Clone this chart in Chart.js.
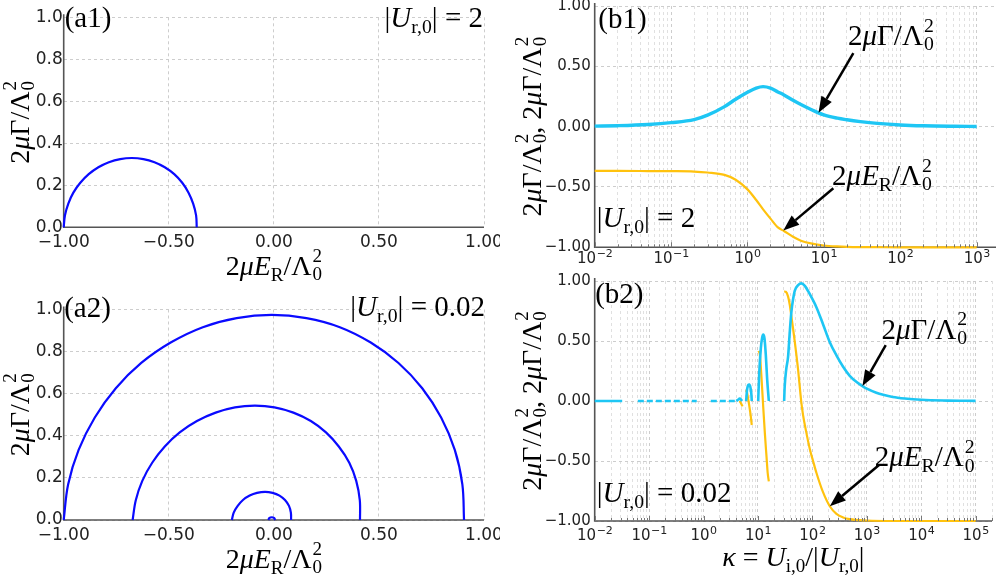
<!DOCTYPE html>
<html>
<head>
<meta charset="utf-8">
<script src="https://cdn.jsdelivr.net/npm/chart.js@4.4.1/dist/chart.umd.min.js"></script>
<style>
  html, body { margin: 0; padding: 0; background: #fff; }
  #wrap { position: relative; width: 996px; height: 577px; overflow: hidden; }
  canvas { position: absolute; }
</style>
</head>
<body>
<div id="wrap">
  <canvas id="a1" width="500" height="285" style="left:0px;top:0px"></canvas>
  <canvas id="a2" width="500" height="292" style="left:0px;top:285px"></canvas>
  <canvas id="b1" width="496" height="270" style="left:500px;top:0px"></canvas>
  <canvas id="b2" width="496" height="307" style="left:500px;top:270px"></canvas>
</div>
<script>
// ---- data ----
// (a1) |U_r,0| = 2 : trajectory in the (E_R, Gamma) plane
const a1E = [-1.000, -0.994, -0.978, -0.954, -0.921, -0.881, -0.835, -0.785, -0.731, -0.676,
             -0.621, -0.568, -0.519, -0.474, -0.436, -0.406, -0.384, -0.370, -0.367];
const a1G = [0, 0.057, 0.113, 0.165, 0.212, 0.253, 0.286, 0.310, 0.325, 0.330,
             0.325, 0.310, 0.286, 0.253, 0.212, 0.165, 0.113, 0.057, 0];

// (a2) |U_r,0| = 0.02 : four arcs
const a2BigE = [-1.000, -0.979, -0.929, -0.852, -0.752, -0.631, -0.491, -0.338, -0.177, -0.010,
                0.155, 0.314, 0.461, 0.593, 0.706, 0.796, 0.861, 0.897, 0.905];
const a2BigG = [0, 0.169, 0.333, 0.487, 0.626, 0.746, 0.843, 0.916, 0.959, 0.974,
                0.959, 0.916, 0.843, 0.746, 0.626, 0.487, 0.333, 0.169, 0];
const a2MidE = [-0.672, -0.657, -0.626, -0.579, -0.519, -0.448, -0.366, -0.277, -0.185, -0.090,
                0.003, 0.093, 0.176, 0.248, 0.309, 0.359, 0.392, 0.409, 0.410];
const a2MidG = [0, 0.094, 0.186, 0.272, 0.349, 0.416, 0.470, 0.510, 0.535, 0.543,
                0.535, 0.510, 0.470, 0.416, 0.349, 0.272, 0.186, 0.094, 0];
const a2SmallE = [-0.200, -0.191, -0.172, -0.147, -0.115, -0.080, -0.042, -0.006, 0.027, 0.053, 0.072, 0.081, 0.082];
const a2SmallG = [0, 0.035, 0.067, 0.095, 0.116, 0.129, 0.134, 0.129, 0.116, 0.095, 0.067, 0.035, 0];
const a2TinyE = [-0.026, -0.022, -0.010, 0.002, 0.006];
const a2TinyG = [0, 0.009, 0.013, 0.009, 0];

// (b1) |U_r,0| = 2 : versus kappa
const b1Kappa = [0.01, 0.02, 0.05, 0.1, 0.2, 0.3, 0.5, 0.7, 1, 1.3, 1.6, 2, 2.5, 3, 4, 5, 7, 10,
                 15, 20, 30, 50, 100, 200, 500, 1000];
const b1Gamma = [0.004, 0.008, 0.018, 0.033, 0.058, 0.095, 0.166, 0.227, 0.285, 0.320, 0.332, 0.320,
                 0.288, 0.263, 0.216, 0.183, 0.138, 0.097, 0.070, 0.057, 0.042, 0.027, 0.014, 0.007, 0.003, 0.0015];
const b1Energy = [-0.367, -0.367, -0.368, -0.369, -0.372, -0.380, -0.400, -0.440, -0.520, -0.608, -0.685,
                  -0.762, -0.835, -0.865, -0.915, -0.945, -0.970, -0.985, -0.993, -0.996, -0.998, -0.999,
                  -1, -1, -1, -1];

// (b2) |U_r,0| = 0.02 : versus kappa (null = branch break)
const b2KappaG = [0.01, 0.032, 0.04,
                  4.0, 4.3, 4.6, 4.9, 5.1, 5.5,
                  6.07, 6.27, 6.47, 6.68, 6.9, 7.13, 7.36, 7.57, 7.7, 9,
                  10.1, 10.53, 11.3, 11.96, 12.48, 13.2, 13.96, 14.77, 15.85, 20,
                  30.3, 31, 33, 35.8, 38.5, 41.3, 44.3, 47.6, 54.7, 63, 72.6, 89.7, 119, 157, 209, 277,
                  367, 486, 650, 832, 1000, 1500, 2000, 3000, 5000, 1e4, 3e4, 1e5];
const b2Gamma = [0, 0, null,
                 0, 0.01, 0.02, 0.012, 0, null,
                 0, 0.085, 0.12, 0.135, 0.138, 0.128, 0.1, 0.055, 0, null,
                 0, 0.22, 0.44, 0.53, 0.553, 0.52, 0.38, 0.18, 0, null,
                 0, 0.12, 0.26, 0.37, 0.58, 0.75, 0.85, 0.92, 0.965, 0.98, 0.96, 0.89, 0.78, 0.64, 0.49, 0.38,
                 0.285, 0.21, 0.158, 0.124, 0.103, 0.069, 0.052, 0.034, 0.021, 0.010, 0.0035, 0.001];
const b2KappaZero = [0.062, 0.75, 0.9, 1.36, 4.0];
const b2GammaZero = [0, 0, null, 0, 0];
const b2KappaE = [4.6, 4.9, 5.2, 5.4,
                  6.05, 6.3, 6.6, 6.9, 7.3, 7.7, 8.5,
                  10.2, 10.8, 11.6, 12.5, 13.4, 14.4, 15.1, 15.85, 20,
                  30.3, 32.5, 35.8, 38.5, 41.3, 44.3, 47.6, 51, 54.7, 58.6, 63, 67.6, 78, 89.7, 103, 119,
                  157, 209, 277, 367, 486, 1000, 3000, 1e5];
const b2Energy = [0, -0.02, -0.045, null,
                  0.09, 0.07, 0.02, -0.035, -0.11, -0.2, null,
                  0.417, 0.39, 0.2, -0.05, -0.27, -0.47, -0.6, -0.67, null,
                  0.913, 0.91, 0.87, 0.80, 0.70, 0.60, 0.49, 0.38, 0.26, 0.12, -0.02, -0.12, -0.27, -0.40, -0.50, -0.60,
                  -0.76, -0.877, -0.94, -0.97, -0.985, -0.996, -1.0, -1.0];

// ---- styling ----
const SERIF = '"Liberation Serif", "DejaVu Serif", serif';
const SANS = '"DejaVu Sans", sans-serif';
const GRID = '#cdcdcd', GRID_MINOR = '#e0e0e0', SPINE = '#555';
const BLUE = '#0a0aff', CYAN = '#1ec6f4', GOLD = '#ffc20e';

// math-ish labels: [text, kind]  n normal, i italic, b subscript, s stacked sup/sub
const GAM = [['2', 'n'], ['μ', 'i'], ['Γ/Λ', 'n'], ['20', 's']];
const ER = [['2', 'n'], ['μE', 'i'], ['R', 'b'], ['/Λ', 'n'], ['20', 's']];
const BOTH = GAM.concat([[', ', 'n']], GAM);
const KAPPA = [['κ', 'i'], [' = ', 'n'], ['U', 'i'], ['i,0', 'b'], ['/|', 'n'], ['U', 'i'], ['r,0', 'b'], ['|', 'n']];
const U2 = [['|', 'n'], ['U', 'i'], ['r,0', 'b'], ['| = 2', 'n']];
const U002 = [['|', 'n'], ['U', 'i'], ['r,0', 'b'], ['| = 0.02', 'n']];

function setFont(ctx, kind, size) {
  const small = kind === 'b' || kind === 's';
  ctx.font = (kind === 'i' ? 'italic ' : '') + (small ? size * 0.68 : size) + 'px ' + SERIF;
}
function partW(ctx, p, size) {
  setFont(ctx, p[1], size);
  if (p[1] === 's') return Math.max(ctx.measureText(p[0][0]).width, ctx.measureText(p[0][1]).width) + 1;
  return ctx.measureText(p[0]).width;
}
function drawMath(ctx, parts, x, y, size, align) {
  const w = parts.reduce((s, p) => s + partW(ctx, p, size), 0);
  let cx = align === 'center' ? x - w / 2 : align === 'right' ? x - w : x;
  ctx.textAlign = 'left';
  ctx.textBaseline = 'alphabetic';
  ctx.fillStyle = '#000';
  for (const p of parts) {
    setFont(ctx, p[1], size);
    if (p[1] === 's') {
      ctx.fillText(p[0][0], cx + 1, y - size * 0.46);
      ctx.fillText(p[0][1], cx + 1, y + size * 0.19);
    } else if (p[1] === 'b') {
      ctx.fillText(p[0], cx, y + size * 0.2);
    } else {
      ctx.fillText(p[0], cx, y);
    }
    cx += partW(ctx, p, size);
  }
}
function yTitle(ctx, parts, x, cy, size) {
  ctx.save();
  ctx.translate(x, cy);
  ctx.rotate(-Math.PI / 2);
  drawMath(ctx, parts, 0, 0, size, 'center');
  ctx.restore();
}
function drawArrow(ctx, x1, y1, x2, y2) {
  const a = Math.atan2(y2 - y1, x2 - x1), L = 16, W = 6;
  const bx = x2 - L * Math.cos(a), by = y2 - L * Math.sin(a);
  ctx.setLineDash([]);
  ctx.strokeStyle = '#000';
  ctx.lineWidth = 2.5;
  ctx.beginPath(); ctx.moveTo(x1, y1); ctx.lineTo(bx, by); ctx.stroke();
  ctx.fillStyle = '#000';
  ctx.beginPath();
  ctx.moveTo(x2, y2);
  ctx.lineTo(bx + W * Math.sin(a), by - W * Math.cos(a));
  ctx.lineTo(bx - W * Math.sin(a), by + W * Math.cos(a));
  ctx.closePath();
  ctx.fill();
}
// arrow and label given in data coordinates
function annotate(chart, ann) {
  const xs = chart.scales.x, ys = chart.scales.y, ctx = chart.ctx;
  drawArrow(ctx, xs.getPixelForValue(ann.tail[0]), ys.getPixelForValue(ann.tail[1]),
            xs.getPixelForValue(ann.tip[0]), ys.getPixelForValue(ann.tip[1]));
  drawMath(ctx, ann.text, xs.getPixelForValue(ann.at[0]), ys.getPixelForValue(ann.at[1]), 29, 'left');
}
// decade labels 10^n with a raised exponent, plus small tick marks
function logAxisLabels(chart, base) {
  const xs = chart.scales.x, ctx = chart.ctx, ca = chart.chartArea;
  ctx.strokeStyle = '#777';
  ctx.lineWidth = 1;
  ctx.setLineDash([]);
  xs.ticks.forEach(t => {
    const px = Math.round(xs.getPixelForValue(t.value)) + 0.5;
    const len = isDecade(t.value) ? 5 : 3;
    ctx.beginPath(); ctx.moveTo(px, ca.bottom); ctx.lineTo(px, ca.bottom - len); ctx.stroke();
  });
  ctx.fillStyle = '#222';
  ctx.textAlign = 'left';
  ctx.textBaseline = 'alphabetic';
  xs.ticks.forEach(t => {
    if (!isDecade(t.value)) return;
    const e = String(Math.round(Math.log10(t.value))).replace('-', '\u2212');
    ctx.font = '15px ' + SANS;
    const w1 = ctx.measureText('10').width;
    ctx.font = '11px ' + SANS;
    const w2 = ctx.measureText(e).width;
    const x0 = xs.getPixelForValue(t.value) - (w1 + w2) / 2;
    ctx.font = '15px ' + SANS;
    ctx.fillText('10', x0, ca.bottom + base);
    ctx.font = '11px ' + SANS;
    ctx.fillText(e, x0 + w1 + 0.5, ca.bottom + base - 6);
  });
}

function decor(draw) {
  return {
    id: 'decor',
    beforeDatasetsDraw(chart) {
      const ctx = chart.ctx, ca = chart.chartArea;
      ctx.save();
      ctx.strokeStyle = SPINE;
      ctx.lineWidth = 1.6;
      ctx.beginPath();
      ctx.moveTo(ca.left, ca.top - 3);
      ctx.lineTo(ca.left, ca.bottom);
      ctx.lineTo(ca.right, ca.bottom);
      ctx.stroke();
      ctx.restore();
    },
    afterDraw(chart) {
      const ctx = chart.ctx;
      ctx.save();
      draw(chart, ctx, chart.chartArea);
      ctx.restore();
    }
  };
}

function minus(s) { return String(s).replace('-', '\u2212'); }
function isDecade(v) { const l = Math.log10(v); return Math.abs(l - Math.round(l)) < 1e-6; }
function logTicks(lo, hi, max) {
  const out = [];
  for (let e = lo; e <= hi; e++) {
    for (let m = 1; m <= 9; m++) {
      const v = Number((m * Math.pow(10, e)).toPrecision(6));
      if (v <= max * 1.0001) out.push({ value: v });
    }
  }
  return out;
}
function fit(w, h) {
  return s => {
    if (w) s.width = w;
    if (h) s.height = h;
    s.paddingLeft = 0; s.paddingRight = 0; s.paddingTop = 0; s.paddingBottom = 0;
  };
}
function gridOpts(color) {
  return { color: color || GRID, lineWidth: 1, drawTicks: false, borderDash: [3, 3] };
}
const borderOpts = { display: false, dash: [3, 3] };

function aScales(xH) {
  return {
    x: {
      type: 'linear', min: -1, max: 1, afterFit: fit(0, xH),
      ticks: { stepSize: 0.5, padding: 5, autoSkip: false, maxRotation: 0, color: '#222',
               font: { family: SANS, size: 17 }, callback: v => minus(v.toFixed(2)) },
      grid: gridOpts(), border: borderOpts
    },
    y: {
      type: 'linear', min: 0, max: 1, afterFit: fit(63.7, 0),
      ticks: { stepSize: 0.2, padding: 1, autoSkip: false, color: '#222',
               font: { family: SANS, size: 17 }, callback: v => v.toFixed(1) },
      grid: gridOpts(), border: borderOpts
    }
  };
}
function bScales(maxK, hiExp, xH) {
  return {
    x: {
      type: 'logarithmic', min: 0.01, max: maxK, afterFit: fit(0, xH),
      afterBuildTicks: s => { s.ticks = logTicks(-2, hiExp, maxK); },
      // labels are drawn by logAxisLabels so the exponent can be raised
      ticks: { autoSkip: false, maxRotation: 0, padding: 3, font: { family: SANS, size: 15 }, callback: () => '' },
      grid: gridOpts(c => (c.tick && isDecade(c.tick.value)) ? GRID : GRID_MINOR), border: borderOpts
    },
    y: {
      type: 'linear', min: -1, max: 1, afterFit: fit(94.7, 0),
      ticks: { stepSize: 0.5, padding: 4, autoSkip: false, color: '#222',
               font: { family: SANS, size: 15 }, callback: v => minus(v.toFixed(2)) },
      grid: gridOpts(), border: borderOpts
    }
  };
}

function series(xs, ys, color, width, extra) {
  return Object.assign({
    data: xs.map((x, i) => ({ x: x, y: ys[i] })),
    showLine: true, borderColor: color, borderWidth: width,
    pointRadius: 0, pointHoverRadius: 0, fill: false, clip: false, spanGaps: false
  }, extra || {});
}

function makeChart(id, datasets, scales, padding, plugin) {
  return new Chart(document.getElementById(id), {
    type: 'scatter',
    data: { datasets: datasets },
    options: {
      responsive: false, animation: false, events: [],
      layout: { padding: padding },
      plugins: { legend: { display: false }, tooltip: { enabled: false } },
      scales: scales
    },
    plugins: [plugin]
  });
}

// (a1)
makeChart('a1',
  [series(a1E, a1G, BLUE, 2.2, { tension: 0.35 })],
  aScales(57.7), { left: 0, top: 17.3, right: 16, bottom: 0 },
  decor((chart, ctx, ca) => {
    drawMath(ctx, [['(a1)', 'n']], ca.left + 1, ca.top + 9.4, 29, 'left');
    drawMath(ctx, U2, ca.right - 1, ca.top + 9.7, 29, 'right');
    yTitle(ctx, GAM, 29, (ca.top + ca.bottom) / 2, 28);
    drawMath(ctx, ER, (ca.left + ca.right) / 2, ca.bottom + 47.7, 28, 'center');
  }));

// (a2)
makeChart('a2',
  [series(a2BigE, a2BigG, BLUE, 2.2, { tension: 0.35 }),
   series(a2MidE, a2MidG, BLUE, 2.2, { tension: 0.35 }),
   series(a2SmallE, a2SmallG, BLUE, 2.2, { tension: 0.35 }),
   series(a2TinyE, a2TinyG, BLUE, 2.2, { tension: 0.35 })],
  aScales(57), { left: 0, top: 24.5, right: 16, bottom: 0 },
  decor((chart, ctx, ca) => {
    drawMath(ctx, [['(a2)', 'n']], ca.left + 0.5, ca.top + 7.2, 29, 'left');
    drawMath(ctx, U002, ca.right + 1, ca.top + 6.2, 29, 'right');
    yTitle(ctx, GAM, 29, (ca.top + ca.bottom) / 2, 28);
    drawMath(ctx, ER, (ca.left + ca.right) / 2, ca.bottom + 48, 28, 'center');
  }));

// (b1)
const b1Notes = [
  { text: GAM, at: [20.7, 0.677], tail: [24.3, 0.609], tip: [8.5, 0.116] },
  { text: ER, at: [12.8, -0.483], tail: [13.3, -0.511], tip: [2.94, -0.86] }
];
makeChart('b1',
  [series(b1Kappa, b1Gamma, CYAN, 3.4, { cubicInterpolationMode: 'monotone' }),
   series(b1Kappa, b1Energy, GOLD, 2.2, { cubicInterpolationMode: 'monotone' })],
  bScales(1790, 3, 22.7), { left: 0, top: 6, right: 0, bottom: 0 },
  decor((chart, ctx, ca) => {
    logAxisLabels(chart, 16);
    drawMath(ctx, [['(b1)', 'n']], ca.left + 3.6, ca.top + 22.3, 29, 'left');
    drawMath(ctx, U2, ca.left + 2, ca.bottom - 20.6, 29, 'left');
    yTitle(ctx, BOTH, 41, (ca.top + ca.bottom) / 2, 28);
    b1Notes.forEach(n => annotate(chart, n));
  }));

// (b2)
const b2Notes = [
  { text: GAM, at: [1860, 0.520], tail: [2230, 0.465], tip: [832, 0.124] },
  { text: ER, at: [1400, -0.545], tail: [1680, -0.533], tip: [209, -0.877] }
];
makeChart('b2',
  [series(b2KappaZero, b2GammaZero, CYAN, 2.6, { borderDash: [6, 3] }),
   series(b2KappaG, b2Gamma, CYAN, 2.6, { cubicInterpolationMode: 'monotone' }),
   series(b2KappaE, b2Energy, GOLD, 2.2, { cubicInterpolationMode: 'monotone' })],
  bScales(2e5, 5, 56), { left: 0, top: 11, right: 4, bottom: 0 },
  decor((chart, ctx, ca) => {
    logAxisLabels(chart, 19);
    drawMath(ctx, [['(b2)', 'n']], ca.left + 0.5, ca.top + 22, 29, 'left');
    drawMath(ctx, U002, ca.left + 2, ca.bottom - 19.3, 29, 'left');
    yTitle(ctx, BOTH, 41, (ca.top + ca.bottom) / 2, 28);
    drawMath(ctx, KAPPA, (ca.left + ca.right) / 2, ca.bottom + 45, 28, 'center');
    b2Notes.forEach(n => annotate(chart, n));
  }));
</script>
</body>
</html>
